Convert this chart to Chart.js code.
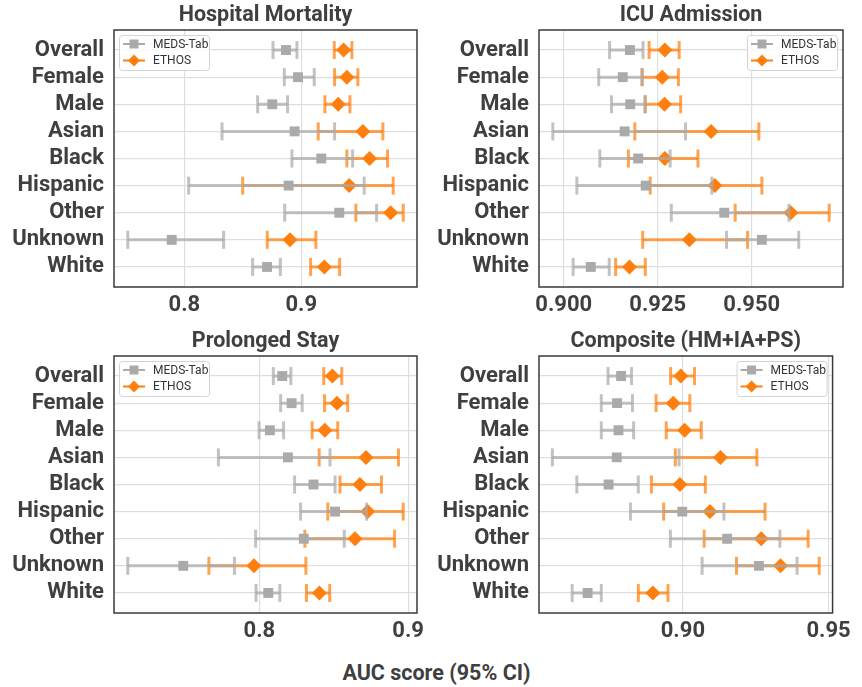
<!DOCTYPE html>
<html>
<head>
<meta charset="utf-8">
<title>AUC by subgroup</title>
<script src="https://cdn.jsdelivr.net/npm/chart.js@4.4.0/dist/chart.umd.min.js"></script>
<style>
  body { margin: 0; background: #fff; }
  #fig { position: relative; width: 862px; height: 687px; overflow: hidden; }
  .panel { position: absolute; width: 431px; height: 320px; }
  #xlabel {
    position: absolute; left: 0; width: 873px; top: 660px;
    text-align: center; font: bold 21.5px Roboto, sans-serif; color: #3f3f3f;
  }
</style>
</head>
<body>
<div id="fig">
  <div class="panel" style="left:0;top:0"><canvas id="hm" width="431" height="320"></canvas></div>
  <div class="panel" style="left:425px;top:0"><canvas id="ia" width="431" height="320"></canvas></div>
  <div class="panel" style="left:0;top:326px"><canvas id="ps" width="431" height="320"></canvas></div>
  <div class="panel" style="left:425px;top:326px"><canvas id="co" width="431" height="320"></canvas></div>
  <div id="xlabel">AUC score (95% CI)</div>
</div>
<script>
const groups = ["Overall", "Female", "Male", "Asian", "Black", "Hispanic", "Other", "Unknown", "White"];

// Hospital Mortality
const hmMedsAuc  = [0.8869, 0.8972, 0.8752, 0.8943, 0.9171, 0.8892, 0.9325, 0.7892, 0.8707];
const hmMedsLow  = [0.8758, 0.8855, 0.8627, 0.8322, 0.8920, 0.8037, 0.8858, 0.7516, 0.8584];
const hmMedsHigh = [0.8963, 0.9111, 0.8883, 0.9285, 0.9439, 0.9538, 0.9644, 0.8336, 0.8821];
const hmEthosAuc  = [0.9362, 0.9390, 0.9316, 0.9527, 0.9584, 0.9410, 0.9764, 0.8903, 0.9197];
const hmEthosLow  = [0.9282, 0.9285, 0.9202, 0.9145, 0.9390, 0.8499, 0.9467, 0.8709, 0.9080];
const hmEthosHigh = [0.9433, 0.9484, 0.9416, 0.9698, 0.9738, 0.9786, 0.9872, 0.9125, 0.9328];
const hmTicks = [0.8, 0.9];
const hmTickLabels = ["0.8", "0.9"];

// ICU Admission
const iaMedsAuc  = [0.9176, 0.9157, 0.9177, 0.9162, 0.9198, 0.9218, 0.9427, 0.9527, 0.9072];
const iaMedsLow  = [0.9122, 0.9093, 0.9127, 0.8971, 0.9096, 0.9035, 0.9286, 0.9433, 0.9025];
const iaMedsHigh = [0.9211, 0.9209, 0.9216, 0.9324, 0.9283, 0.9394, 0.9599, 0.9625, 0.9121];
const iaEthosAuc  = [0.9269, 0.9262, 0.9268, 0.9392, 0.9269, 0.9402, 0.9604, 0.9334, 0.9175];
const iaEthosLow  = [0.9227, 0.9208, 0.9217, 0.9189, 0.9172, 0.9230, 0.9456, 0.9210, 0.9138];
const iaEthosHigh = [0.9307, 0.9305, 0.9311, 0.9519, 0.9357, 0.9527, 0.9706, 0.9489, 0.9217];
const iaTicks = [0.900, 0.925, 0.950];
const iaTickLabels = ["0.900", "0.925", "0.950"];

// Prolonged Stay
const psMedsAuc  = [0.8154, 0.8217, 0.8071, 0.8192, 0.8364, 0.8509, 0.8299, 0.7489, 0.8060];
const psMedsLow  = [0.8094, 0.8143, 0.7998, 0.7725, 0.8237, 0.8277, 0.7975, 0.7116, 0.7978];
const psMedsHigh = [0.8212, 0.8288, 0.8163, 0.8475, 0.8509, 0.8721, 0.8571, 0.7833, 0.8138];
const psEthosAuc  = [0.8491, 0.8522, 0.8440, 0.8717, 0.8676, 0.8728, 0.8643, 0.7964, 0.8404];
const psEthosLow  = [0.8433, 0.8438, 0.8355, 0.8402, 0.8542, 0.8460, 0.8306, 0.7661, 0.8317];
const psEthosHigh = [0.8554, 0.8594, 0.8527, 0.8935, 0.8821, 0.8967, 0.8909, 0.8313, 0.8473];
const psTicks = [0.8, 0.9];
const psTickLabels = ["0.8", "0.9"];

// Composite (HM+IA+PS)
const coMedsAuc  = [0.8788, 0.8774, 0.8779, 0.8773, 0.8745, 0.8998, 0.9152, 0.9261, 0.8673];
const coMedsLow  = [0.8743, 0.8720, 0.8720, 0.8552, 0.8636, 0.8820, 0.8957, 0.9066, 0.8620];
const coMedsHigh = [0.8824, 0.8827, 0.8831, 0.8987, 0.8847, 0.9141, 0.9333, 0.9392, 0.8720];
const coEthosAuc  = [0.8993, 0.8967, 0.9006, 0.9129, 0.8990, 0.9093, 0.9269, 0.9335, 0.8897];
const coEthosLow  = [0.8958, 0.8908, 0.8943, 0.8974, 0.8892, 0.8934, 0.9073, 0.9184, 0.8847];
const coEthosHigh = [0.9040, 0.9024, 0.9063, 0.9254, 0.9077, 0.9282, 0.9430, 0.9468, 0.8949];
const coTicks = [0.90, 0.95];
const coTickLabels = ["0.90", "0.95"];

const TEXT = "#3f3f3f";
const GRID = "#dedede";
const GRAY = "#aaaaaa";
const ORANGE = "#ff7f0e";

Chart.defaults.font.family = "Roboto, sans-serif";

// whiskers + caps, drawn just before each dataset's markers
const errorBars = {
  id: "errorBars",
  beforeDatasetDraw(chart, args) {
    const ds = chart.data.datasets[args.index];
    const xs = chart.scales.x, ys = chart.scales.y;
    const ctx = chart.ctx;
    ctx.save();
    ctx.strokeStyle = ds.barColor;
    ctx.lineWidth = 3;
    ds.low.forEach((lo, i) => {
      const y = ys.getPixelForValue(i);
      const x0 = xs.getPixelForValue(lo);
      const x1 = xs.getPixelForValue(ds.high[i]);
      ctx.beginPath();
      ctx.moveTo(x0, y);
      ctx.lineTo(x1, y);
      ctx.stroke();
      [x0, x1].forEach((x) => {
        ctx.beginPath();
        ctx.moveTo(x, y - 9);
        ctx.lineTo(x, y + 9);
        ctx.stroke();
      });
    });
    ctx.restore();
  },
};

function marker(ctx, style, x, y, r) {
  ctx.beginPath();
  if (style === "rect") {
    ctx.rect(x - r, y - r, 2 * r, 2 * r);
  } else {
    ctx.moveTo(x, y - r);
    ctx.lineTo(x + r, y);
    ctx.lineTo(x, y + r);
    ctx.lineTo(x - r, y);
    ctx.closePath();
  }
  ctx.fill();
}

// axes frame and the small legend inside the plot
const frameLegend = {
  id: "frameLegend",
  afterDraw(chart, args, opts) {
    const ctx = chart.ctx;
    const a = chart.chartArea;
    ctx.save();
    ctx.strokeStyle = "#3a3a3a";
    ctx.lineWidth = 1.5;
    ctx.strokeRect(a.left, a.top, a.right - a.left, a.bottom - a.top);

    const w = 90, h = 35;
    const bx = opts.side === "right" ? a.right - 6 - w : a.left + 5;
    const by = a.top + 5;
    ctx.beginPath();
    ctx.roundRect(bx + 0.5, by + 0.5, w, h, 3);
    ctx.fillStyle = "rgba(255,255,255,0.85)";
    ctx.fill();
    ctx.strokeStyle = "#d4d4d4";
    ctx.lineWidth = 1;
    ctx.stroke();

    chart.data.datasets.forEach((ds, i) => {
      const cy = by + 9 + i * 16.5;
      ctx.strokeStyle = ds.pointBackgroundColor;
      ctx.lineWidth = 2;
      ctx.beginPath();
      ctx.moveTo(bx + 4, cy);
      ctx.lineTo(bx + 26, cy);
      ctx.stroke();
      ctx.fillStyle = ds.pointBackgroundColor;
      marker(ctx, ds.pointStyle, bx + 15, cy, ds.pointStyle === "rect" ? 4.5 : 6);
      ctx.fillStyle = "#333";
      ctx.font = "12px Roboto, sans-serif";
      ctx.textBaseline = "middle";
      ctx.textAlign = "left";
      ctx.fillText(ds.label, bx + 34, cy + 0.5);
    });
    ctx.restore();
  },
};

function makePanel(id, title, meds, ethos, ticks, tickLabels, side, padRight) {
  const bounds = [...meds.low, ...meds.high, ...ethos.low, ...ethos.high];
  const lo = Math.min(...bounds), hi = Math.max(...bounds);
  const pad = (hi - lo) * 0.05;

  new Chart(document.getElementById(id), {
    type: "scatter",
    data: {
      datasets: [
        {
          label: "MEDS-Tab",
          data: meds.auc.map((v, i) => ({ x: v, y: i })),
          low: meds.low,
          high: meds.high,
          barColor: "rgba(170,170,170,0.72)",
          pointStyle: "rect",
          pointRadius: 7,
          pointBackgroundColor: GRAY,
          pointBorderWidth: 0,
        },
        {
          label: "ETHOS",
          data: ethos.auc.map((v, i) => ({ x: v, y: i })),
          low: ethos.low,
          high: ethos.high,
          barColor: "rgba(255,127,14,0.72)",
          pointStyle: "rectRot",
          pointRadius: 7.5,
          pointBackgroundColor: ORANGE,
          pointBorderWidth: 0,
        },
      ],
    },
    options: {
      responsive: false,
      animation: false,
      events: [],
      layout: { padding: { left: 0, right: padRight, top: 0, bottom: 0 } },
      scales: {
        x: {
          type: "linear",
          min: lo - pad,
          max: hi + pad,
          afterBuildTicks: (s) => { s.ticks = ticks.map((v) => ({ value: v })); },
          afterFit: (s) => { s.height = 33; },
          ticks: {
            callback: (v, i) => tickLabels[i],
            font: { size: 22, weight: "bold" },
            color: TEXT,
            padding: 5,
            maxRotation: 0,
          },
          grid: { color: GRID, lineWidth: 1.2, drawTicks: false },
          border: { display: false },
        },
        y: {
          type: "linear",
          reverse: true,
          min: -0.74,
          max: groups.length - 1 + 0.74,
          afterBuildTicks: (s) => { s.ticks = groups.map((g, i) => ({ value: i })); },
          afterFit: (s) => { s.width = 114; },
          ticks: {
            callback: (v) => groups[v],
            font: { size: 22, weight: "bold" },
            color: TEXT,
            padding: 10,
          },
          grid: { color: GRID, lineWidth: 1.2, drawTicks: false },
          border: { display: false },
        },
      },
      plugins: {
        legend: { display: false },
        tooltip: { enabled: false },
        title: {
          display: true,
          text: title,
          fullSize: false,
          color: TEXT,
          font: { size: 21.5, weight: "bold", lineHeight: 1.2 },
          padding: { top: 3, bottom: 1.2 },
        },
        frameLegend: { side: side },
      },
    },
    plugins: [errorBars, frameLegend],
  });
}

makePanel("hm", "Hospital Mortality",
  { auc: hmMedsAuc, low: hmMedsLow, high: hmMedsHigh },
  { auc: hmEthosAuc, low: hmEthosLow, high: hmEthosHigh },
  hmTicks, hmTickLabels, "left", 14);

makePanel("ia", "ICU Admission",
  { auc: iaMedsAuc, low: iaMedsLow, high: iaMedsHigh },
  { auc: iaEthosAuc, low: iaEthosLow, high: iaEthosHigh },
  iaTicks, iaTickLabels, "right", 13);

makePanel("ps", "Prolonged Stay",
  { auc: psMedsAuc, low: psMedsLow, high: psMedsHigh },
  { auc: psEthosAuc, low: psEthosLow, high: psEthosHigh },
  psTicks, psTickLabels, "left", 14);

makePanel("co", "Composite (HM+IA+PS)",
  { auc: coMedsAuc, low: coMedsLow, high: coMedsHigh },
  { auc: coEthosAuc, low: coEthosLow, high: coEthosHigh },
  coTicks, coTickLabels, "right", 13);
</script>
</body>
</html>
